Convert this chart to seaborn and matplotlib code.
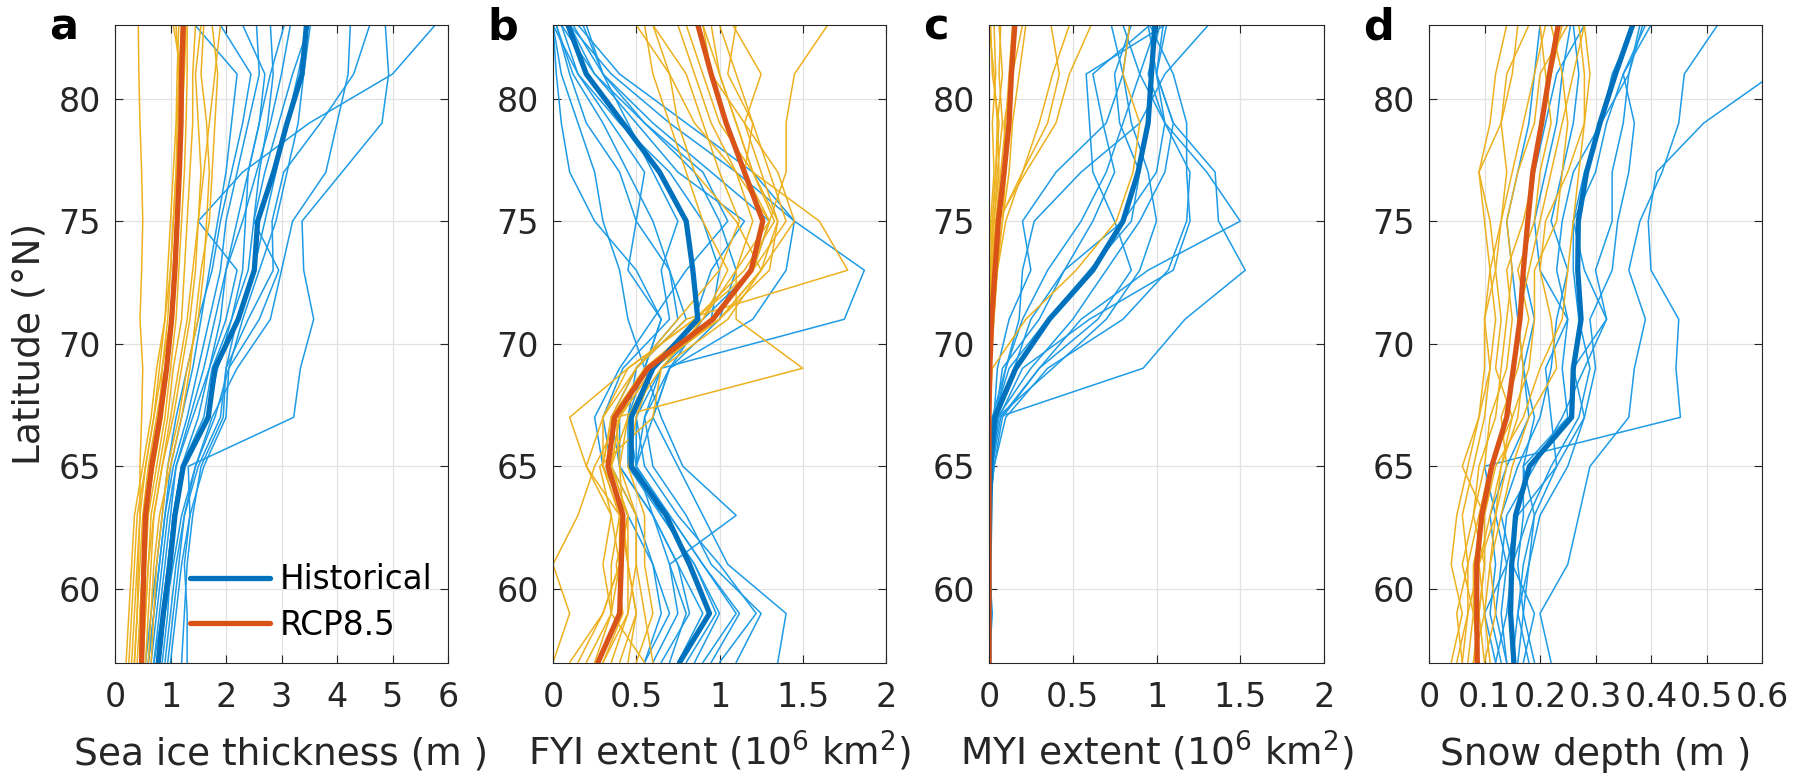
import numpy as np
import pandas as pd
import matplotlib
matplotlib.use("Agg")
import matplotlib.pyplot as plt
import seaborn as sns

# ---------------- data ----------------
LAT = [57, 59, 61, 63, 65, 67, 69, 71, 73, 75, 77, 79, 81, 83]
SCENARIOS = ["Historical", "RCP8.5"]

# Panel a: sea ice thickness (m)
A_HIST_MEAN = [0.78, 0.87, 0.99, 1.08, 1.23, 1.68, 1.80, 2.22, 2.51, 2.57, 2.86, 3.10, 3.37, 3.45]
A_RCP_MEAN = [0.48, 0.50, 0.52, 0.55, 0.66, 0.81, 0.93, 1.02, 1.08, 1.12, 1.16, 1.19, 1.20, 1.23]
A_HIST_MEMBERS = [
    [0.75, 0.85, 0.95, 1.05, 1.20, 1.60, 1.75, 2.10, 2.40, 2.50, 2.70, 2.95, 3.20, 3.50],
    [0.60, 0.70, 0.80, 0.90, 1.05, 1.30, 1.50, 1.70, 1.90, 2.00, 2.20, 2.40, 2.60, 2.55],
    [1.30, 1.30, 1.25, 1.35, 1.32, 3.22, 3.34, 3.58, 3.40, 3.37, 4.09, 4.81, 4.93, 4.87],
    [0.90, 1.00, 1.10, 1.25, 1.50, 1.90, 2.00, 2.40, 2.85, 2.83, 3.04, 3.70, 4.30, 4.59],
    [0.70, 0.80, 0.90, 1.00, 1.10, 1.40, 1.70, 2.00, 2.20, 1.50, 2.30, 3.50, 5.00, 5.77],
    [0.80, 0.90, 1.05, 1.20, 1.45, 1.80, 2.05, 2.30, 2.60, 2.90, 3.10, 3.30, 3.40, 3.52],
    [0.65, 0.75, 0.85, 0.95, 1.10, 1.35, 1.60, 1.80, 2.00, 2.30, 2.55, 2.80, 3.00, 3.16],
    [1.00, 1.10, 1.20, 1.35, 1.60, 2.00, 2.05, 2.60, 2.95, 2.50, 2.60, 2.75, 2.85, 2.80],
    [0.85, 0.95, 1.00, 1.10, 1.25, 1.65, 1.85, 2.10, 2.30, 2.35, 2.40, 2.60, 2.70, 2.30],
    [0.55, 0.65, 0.75, 0.85, 0.95, 1.10, 1.30, 1.50, 1.75, 1.90, 2.10, 2.30, 2.45, 1.90],
    [0.95, 1.05, 1.15, 1.25, 1.45, 1.75, 2.20, 2.80, 3.00, 3.20, 3.80, 4.00, 4.20, 4.24],
    [0.70, 0.85, 0.95, 1.05, 1.20, 1.50, 1.70, 1.90, 2.00, 2.20, 2.40, 2.60, 2.80, 3.05],
    [1.20, 1.25, 1.30, 1.40, 1.55, 1.95, 2.00, 2.20, 2.50, 2.70, 2.90, 3.10, 3.30, 3.48],
    [0.60, 0.70, 0.80, 0.90, 1.00, 1.20, 1.40, 1.55, 1.70, 1.85, 2.00, 2.10, 2.20, 1.44],
]
A_RCP_MEMBERS = [
    [0.00, 0.00, 0.00, 0.00, 0.00, 0.00, 0.00, 0.00, 0.00, 0.00, 0.00, 0.00, 0.00, 0.00],
    [0.35, 0.40, 0.42, 0.45, 0.45, 0.48, 0.50, 0.45, 0.48, 0.50, 0.48, 0.45, 0.43, 0.42],
    [0.45, 0.50, 0.55, 0.60, 0.75, 0.90, 1.00, 1.10, 1.15, 1.20, 1.25, 1.28, 1.30, 1.30],
    [0.40, 0.45, 0.50, 0.55, 0.70, 0.85, 0.95, 1.05, 1.10, 1.10, 1.12, 1.15, 1.15, 1.10],
    [0.55, 0.60, 0.65, 0.70, 0.85, 1.00, 1.15, 1.30, 1.40, 1.50, 1.60, 1.70, 1.80, 1.90],
    [0.30, 0.35, 0.40, 0.45, 0.55, 0.70, 0.80, 0.90, 1.00, 1.05, 1.10, 1.15, 1.20, 1.25],
    [0.50, 0.55, 0.60, 0.70, 0.85, 1.05, 1.20, 1.35, 1.45, 1.50, 1.55, 1.50, 1.45, 1.55],
    [0.20, 0.25, 0.30, 0.35, 0.50, 0.65, 0.75, 0.90, 0.95, 1.00, 1.05, 1.10, 1.12, 1.15],
    [0.60, 0.65, 0.70, 0.80, 1.00, 1.20, 1.35, 1.45, 1.55, 1.70, 1.75, 1.80, 1.85, 1.75],
    [0.45, 0.45, 0.50, 0.55, 0.65, 0.80, 0.85, 0.95, 1.00, 1.05, 1.10, 1.12, 1.15, 1.20],
    [0.35, 0.40, 0.45, 0.50, 0.60, 0.75, 0.90, 1.00, 1.05, 1.10, 1.15, 1.20, 1.25, 1.28],
    [0.65, 0.70, 0.75, 0.85, 0.95, 1.15, 1.30, 1.50, 1.60, 1.65, 1.70, 1.65, 1.55, 1.60],
    [0.50, 0.55, 0.60, 0.65, 0.80, 0.95, 1.05, 1.20, 1.25, 1.30, 1.35, 1.40, 1.40, 1.45],
    [0.25, 0.30, 0.35, 0.40, 0.55, 0.70, 0.85, 1.00, 1.05, 1.10, 1.15, 1.18, 1.20, 1.05],
]

# Panel b: FYI extent (10^6 km^2)
B_HIST_MEAN = [0.76, 0.94, 0.82, 0.68, 0.47, 0.47, 0.60, 0.87, 0.84, 0.80, 0.64, 0.42, 0.20, 0.09]
B_RCP_MEAN = [0.27, 0.40, 0.41, 0.42, 0.33, 0.37, 0.57, 0.96, 1.19, 1.26, 1.15, 1.04, 0.95, 0.87]
B_HIST_MEMBERS = [
    [0.76, 0.94, 0.82, 0.68, 0.47, 0.47, 0.60, 0.87, 0.84, 0.80, 0.64, 0.42, 0.20, 0.09],
    [1.35, 1.40, 1.05, 0.90, 0.75, 0.60, 0.70, 1.20, 1.40, 1.45, 1.20, 0.80, 0.40, 0.15],
    [0.55, 0.70, 0.60, 0.45, 0.30, 0.25, 0.40, 0.60, 0.80, 1.05, 0.90, 0.55, 0.25, 0.05],
    [1.00, 1.22, 1.00, 0.75, 0.55, 0.50, 0.65, 1.75, 1.87, 1.45, 1.10, 0.70, 0.35, 0.10],
    [0.70, 0.80, 0.70, 0.60, 0.40, 0.40, 0.55, 0.45, 0.40, 0.30, 0.25, 0.15, 0.05, 0.00],
    [0.90, 1.10, 0.90, 0.70, 0.50, 0.55, 0.65, 0.95, 1.00, 0.90, 0.70, 0.40, 0.15, 0.00],
    [0.60, 0.75, 0.70, 1.10, 0.78, 0.65, 0.55, 0.65, 0.50, 0.25, 0.10, 0.05, 0.02, 0.00],
    [0.85, 1.00, 0.85, 0.65, 0.45, 0.45, 0.50, 0.75, 0.70, 0.50, 0.55, 0.35, 0.15, 0.05],
    [0.75, 0.90, 0.75, 0.60, 0.50, 0.60, 0.70, 0.90, 1.20, 1.30, 0.95, 0.60, 0.30, 0.12],
    [0.95, 1.12, 0.90, 0.70, 0.50, 0.45, 0.55, 0.65, 0.45, 0.50, 0.40, 0.20, 0.10, 0.02],
    [0.65, 0.82, 0.75, 0.60, 0.40, 0.35, 0.50, 0.80, 0.70, 0.60, 0.45, 0.30, 0.12, 0.02],
    [1.10, 1.25, 0.95, 0.80, 0.60, 0.55, 0.70, 1.00, 1.10, 1.00, 0.85, 0.55, 0.30, 0.20],
    [0.55, 0.65, 0.60, 0.50, 0.35, 0.30, 0.42, 0.70, 0.65, 0.75, 0.60, 0.45, 0.30, 0.18],
    [0.80, 0.98, 0.85, 0.65, 0.50, 0.50, 0.60, 0.85, 0.95, 1.15, 0.75, 0.50, 0.25, 0.10],
]
B_RCP_MEMBERS = [
    [0.27, 0.40, 0.41, 0.42, 0.33, 0.37, 0.57, 0.96, 1.19, 1.26, 1.15, 1.04, 0.95, 0.87],
    [0.00, 0.10, 0.00, 0.15, 0.25, 0.40, 0.60, 1.00, 1.30, 1.35, 1.20, 1.10, 1.00, 0.90],
    [0.15, 0.30, 0.40, 0.35, 0.20, 0.10, 0.45, 0.85, 1.20, 1.40, 1.30, 1.20, 1.05, 1.10],
    [0.40, 0.50, 0.45, 0.40, 0.30, 0.35, 0.50, 0.80, 1.77, 1.60, 1.20, 1.00, 0.90, 0.80],
    [0.30, 0.45, 0.50, 0.50, 0.40, 0.38, 1.50, 1.10, 1.10, 1.30, 1.10, 0.95, 0.85, 0.75],
    [0.50, 0.60, 0.55, 0.55, 0.45, 0.50, 0.60, 0.95, 1.20, 1.30, 1.40, 1.40, 1.45, 1.65],
    [0.20, 0.35, 0.35, 0.40, 0.30, 0.30, 0.50, 0.75, 1.00, 1.12, 1.00, 0.90, 0.80, 0.60],
    [0.35, 0.45, 0.45, 0.45, 0.35, 0.45, 0.65, 1.05, 1.25, 1.35, 1.25, 1.15, 1.25, 1.08],
    [0.10, 0.30, 0.40, 0.45, 0.30, 0.35, 0.55, 0.90, 1.10, 1.20, 1.10, 0.85, 0.70, 0.50],
    [0.60, 0.55, 0.50, 0.50, 0.35, 0.40, 0.55, 1.00, 1.25, 1.45, 1.35, 1.15, 0.95, 0.90],
    [0.25, 0.35, 0.40, 0.40, 0.20, 0.30, 0.45, 0.85, 1.15, 1.33, 1.20, 1.10, 1.00, 0.95],
    [0.45, 0.50, 0.45, 0.42, 0.40, 0.45, 0.60, 1.00, 1.25, 1.10, 0.85, 0.75, 0.70, 0.60],
    [0.30, 0.42, 0.38, 0.45, 0.35, 0.40, 0.60, 0.95, 1.20, 1.30, 1.15, 1.20, 1.10, 1.00],
    [0.55, 0.35, 0.30, 0.35, 0.28, 0.60, 0.65, 0.90, 1.05, 0.90, 0.80, 0.70, 0.60, 0.55],
]

# Panel c: MYI extent (10^6 km^2)
C_HIST_MEAN = [0.0, 0.0, 0.0, 0.005, 0.01, 0.035, 0.16, 0.36, 0.62, 0.80, 0.89, 0.95, 0.97, 0.99]
C_RCP_MEAN = [0.0, 0.0, 0.0, 0.0, 0.0, 0.0, 0.005, 0.016, 0.036, 0.056, 0.09, 0.12, 0.134, 0.154]
C_HIST_MEMBERS = [
    [0.0, 0.0, 0.0, 0.0, 0.01, 0.04, 0.16, 0.36, 0.62, 0.80, 0.89, 0.95, 0.97, 0.99],
    [0.0, 0.02, 0.0, 0.0, 0.02, 0.05, 0.92, 1.17, 1.53, 1.37, 1.35, 1.10, 1.00, 0.95],
    [0.0, 0.0, 0.0, 0.0, 0.03, 0.08, 0.30, 0.55, 0.95, 1.50, 1.30, 1.05, 0.90, 0.80],
    [0.0, 0.0, 0.0, 0.0, 0.0, 0.02, 0.15, 0.25, 0.45, 0.80, 1.00, 1.05, 1.00, 1.06],
    [0.0, 0.0, 0.0, 0.0, 0.01, 0.03, 0.05, 0.12, 0.25, 0.20, 0.40, 0.70, 0.80, 0.73],
    [0.0, 0.0, 0.0, 0.0, 0.02, 0.06, 0.20, 0.60, 1.10, 1.20, 1.18, 1.18, 1.10, 0.96],
    [0.0, 0.0, 0.0, 0.0, 0.0, 0.02, 0.10, 0.18, 0.20, 0.27, 0.55, 0.90, 1.05, 1.31],
    [0.0, 0.0, 0.0, 0.0, 0.02, 0.05, 0.38, 0.70, 0.90, 1.00, 0.95, 0.85, 0.80, 0.84],
    [0.0, 0.0, 0.0, 0.0, 0.01, 0.04, 0.08, 0.30, 0.45, 0.62, 0.75, 0.68, 0.62, 0.96],
    [0.0, 0.0, 0.0, 0.0, 0.03, 0.10, 0.35, 0.80, 1.07, 1.18, 1.20, 1.05, 0.95, 1.02],
    [0.0, 0.0, 0.0, 0.0, 0.0, 0.03, 0.12, 0.35, 0.60, 0.85, 0.90, 0.78, 0.75, 0.85],
    [0.0, 0.0, 0.0, 0.0, 0.02, 0.05, 0.25, 0.50, 0.70, 0.90, 1.05, 1.10, 1.00, 1.04],
    [0.0, 0.0, 0.0, 0.0, 0.01, 0.04, 0.10, 0.20, 0.35, 0.55, 0.70, 0.80, 0.90, 1.00],
    [0.0, 0.0, 0.0, 0.0, 0.02, 0.07, 0.30, 0.65, 0.85, 0.75, 0.62, 0.60, 0.58, 1.05],
]
C_RCP_MEMBERS = [
    [0.0, 0.0, 0.0, 0.0, 0.0, 0.0, 0.0, 0.01, 0.02, 0.04, 0.07, 0.10, 0.12, 0.14],
    [0.0, 0.0, 0.0, 0.0, 0.0, 0.0, 0.02, 0.22, 0.52, 0.76, 0.86, 0.90, 0.80, 0.84],
    [0.0, 0.0, 0.0, 0.0, 0.0, 0.0, 0.0, 0.02, 0.03, 0.05, 0.22, 0.40, 0.48, 0.61],
    [0.0, 0.0, 0.0, 0.0, 0.0, 0.0, 0.0, 0.01, 0.02, 0.06, 0.20, 0.35, 0.42, 0.37],
    [0.0, 0.0, 0.0, 0.0, 0.0, 0.0, 0.0, 0.0, 0.01, 0.02, 0.04, 0.05, 0.03, 0.00],
    [0.0, 0.0, 0.0, 0.0, 0.0, 0.0, 0.0, 0.01, 0.02, 0.03, 0.05, 0.08, 0.06, 0.07],
    [0.0, 0.0, 0.0, 0.0, 0.0, 0.0, 0.0, 0.0, 0.0, 0.01, 0.03, 0.02, 0.04, 0.03],
    [0.0, 0.0, 0.0, 0.0, 0.0, 0.0, 0.01, 0.02, 0.04, 0.08, 0.10, 0.09, 0.14, 0.20],
    [0.0, 0.0, 0.0, 0.0, 0.0, 0.0, 0.0, 0.01, 0.01, 0.02, 0.04, 0.06, 0.02, 0.01],
    [0.0, 0.0, 0.0, 0.0, 0.0, 0.0, 0.0, 0.02, 0.05, 0.10, 0.20, 0.30, 0.38, 0.48],
    [0.0, 0.0, 0.0, 0.0, 0.0, 0.0, 0.0, 0.0, 0.01, 0.03, 0.06, 0.05, 0.08, 0.06],
    [0.0, 0.0, 0.0, 0.0, 0.0, 0.0, 0.01, 0.03, 0.05, 0.08, 0.12, 0.14, 0.18, 0.22],
]

# Panel d: snow depth (m)
D_HIST_MEAN = [0.153, 0.147, 0.149, 0.156, 0.181, 0.257, 0.260, 0.274, 0.268, 0.269, 0.284, 0.308, 0.336, 0.367]
D_RCP_MEAN = [0.087, 0.086, 0.086, 0.095, 0.113, 0.140, 0.152, 0.164, 0.170, 0.178, 0.187, 0.203, 0.217, 0.233]
D_HIST_MEMBERS = [
    [0.153, 0.147, 0.149, 0.156, 0.181, 0.257, 0.26, 0.274, 0.268, 0.269, 0.284, 0.308, 0.336, 0.367],
    [0.12, 0.10, 0.14, 0.12, 0.10, 0.453, 0.445, 0.45, 0.40, 0.395, 0.41, 0.495, 0.62, 0.70],
    [0.22, 0.20, 0.25, 0.27, 0.29, 0.36, 0.37, 0.39, 0.36, 0.38, 0.42, 0.45, 0.46, 0.52],
    [0.14, 0.12, 0.13, 0.14, 0.19, 0.24, 0.28, 0.32, 0.30, 0.33, 0.33, 0.35, 0.36, 0.385],
    [0.17, 0.19, 0.15, 0.18, 0.22, 0.27, 0.29, 0.27, 0.26, 0.26, 0.28, 0.31, 0.33, 0.37],
    [0.13, 0.11, 0.12, 0.11, 0.14, 0.18, 0.17, 0.16, 0.15, 0.14, 0.16, 0.18, 0.19, 0.20],
    [0.16, 0.17, 0.18, 0.19, 0.23, 0.22, 0.21, 0.25, 0.20, 0.19, 0.21, 0.23, 0.24, 0.255],
    [0.19, 0.17, 0.16, 0.17, 0.17, 0.19, 0.17, 0.19, 0.17, 0.18, 0.19, 0.21, 0.23, 0.28],
    [0.14, 0.13, 0.14, 0.16, 0.23, 0.28, 0.26, 0.32, 0.28, 0.26, 0.30, 0.32, 0.35, 0.40],
    [0.18, 0.16, 0.17, 0.19, 0.17, 0.25, 0.24, 0.25, 0.23, 0.24, 0.26, 0.31, 0.36, 0.38],
    [0.12, 0.14, 0.15, 0.13, 0.16, 0.20, 0.22, 0.23, 0.25, 0.22, 0.24, 0.26, 0.27, 0.26],
    [0.15, 0.16, 0.18, 0.20, 0.25, 0.28, 0.30, 0.29, 0.33, 0.34, 0.36, 0.37, 0.35, 0.39],
]
D_RCP_MEMBERS = [
    [0.087, 0.086, 0.086, 0.095, 0.113, 0.140, 0.152, 0.164, 0.170, 0.178, 0.187, 0.203, 0.217, 0.233],
    [0.04, 0.06, 0.04, 0.05, 0.07, 0.09, 0.10, 0.10, 0.11, 0.10, 0.09, 0.11, 0.12, 0.14],
    [0.06, 0.07, 0.07, 0.06, 0.08, 0.10, 0.11, 0.12, 0.11, 0.13, 0.14, 0.13, 0.15, 0.16],
    [0.10, 0.09, 0.10, 0.10, 0.12, 0.17, 0.20, 0.24, 0.25, 0.26, 0.27, 0.28, 0.28, 0.27],
    [0.06, 0.05, 0.07, 0.09, 0.11, 0.15, 0.12, 0.13, 0.12, 0.13, 0.15, 0.17, 0.19, 0.21],
    [0.08, 0.10, 0.11, 0.13, 0.15, 0.18, 0.23, 0.22, 0.20, 0.21, 0.25, 0.28, 0.29, 0.28],
    [0.09, 0.08, 0.06, 0.08, 0.10, 0.11, 0.14, 0.15, 0.14, 0.17, 0.19, 0.20, 0.22, 0.24],
    [0.11, 0.10, 0.09, 0.11, 0.13, 0.16, 0.17, 0.16, 0.18, 0.20, 0.22, 0.24, 0.26, 0.28],
    [0.07, 0.08, 0.08, 0.10, 0.06, 0.09, 0.11, 0.10, 0.12, 0.11, 0.09, 0.13, 0.14, 0.18],
    [0.05, 0.07, 0.09, 0.12, 0.14, 0.13, 0.16, 0.18, 0.16, 0.19, 0.20, 0.22, 0.21, 0.20],
    [0.08, 0.09, 0.10, 0.08, 0.09, 0.12, 0.13, 0.14, 0.15, 0.14, 0.16, 0.19, 0.20, 0.25],
    [0.10, 0.12, 0.11, 0.12, 0.13, 0.15, 0.18, 0.19, 0.19, 0.23, 0.24, 0.25, 0.24, 0.22],
]

PANEL_LETTERS = ["a", "b", "c", "d"]
XLABELS = ["Sea ice thickness (m )", r"FYI extent (10$^{6}$ km$^{2}$)",
           r"MYI extent (10$^{6}$ km$^{2}$)", "Snow depth (m )"]
XTICKS = [[0, 1, 2, 3, 4, 5, 6], [0, 0.5, 1, 1.5, 2], [0, 0.5, 1, 1.5, 2],
          [0, 0.1, 0.2, 0.3, 0.4, 0.5, 0.6]]
XTICKLABELS = [["0", "1", "2", "3", "4", "5", "6"], ["0", "0.5", "1", "1.5", "2"],
               ["0", "0.5", "1", "1.5", "2"], ["0", "0.1", "0.2", "0.3", "0.4", "0.5", "0.6"]]
YTICKS = [60, 65, 70, 75, 80]
YTICKLABELS = ["60", "65", "70", "75", "80"]
YLABEL = "Latitude (°N)"

# ---------------- style ----------------
sns.set_theme(style="white")
plt.rcParams["font.family"] = ["DejaVu Sans"]
plt.rcParams["mathtext.fontset"] = "dejavusans"
plt.rcParams["mathtext.default"] = "regular"

THIN_COLORS = {"Historical": "#1E9BE6", "RCP8.5": "#EDB120"}
THICK_COLORS = {"Historical": "#0072BD", "RCP8.5": "#D95319"}
TXT = "#262626"


def members_df(hist, rcp):
    rows = []
    for sc, mem in (("Historical", hist), ("RCP8.5", rcp)):
        for m, vals in enumerate(mem):
            for lat, v in zip(LAT, vals):
                rows.append({"lat": lat, "value": v, "scenario": sc, "member": f"{sc}_{m}"})
    return pd.DataFrame(rows)


def mean_df(hm, rm):
    rows = []
    for sc, vals in (("Historical", hm), ("RCP8.5", rm)):
        for lat, v in zip(LAT, vals):
            rows.append({"lat": lat, "value": v, "scenario": sc})
    return pd.DataFrame(rows)


PANELS = [
    (A_HIST_MEMBERS, A_RCP_MEMBERS, A_HIST_MEAN, A_RCP_MEAN),
    (B_HIST_MEMBERS, B_RCP_MEMBERS, B_HIST_MEAN, B_RCP_MEAN),
    (C_HIST_MEMBERS, C_RCP_MEMBERS, C_HIST_MEAN, C_RCP_MEAN),
    (D_HIST_MEMBERS, D_RCP_MEMBERS, D_HIST_MEAN, D_RCP_MEAN),
]

W, H = 1794, 777
fig = plt.figure(figsize=(W / 100, H / 100), dpi=100)
lefts_px = [115, 553, 989, 1429]
widths_px = [333, 333, 335, 333]
top_px, bot_px = 25, 662.5

for i, (hm_, rm_, hmean, rmean) in enumerate(PANELS):
    ax = fig.add_axes([lefts_px[i] / W, (H - bot_px) / H, widths_px[i] / W, (bot_px - top_px) / H])
    ax.set_axisbelow(True)
    ax.grid(True, color="#E2E2E2", lw=0.9)
    dfm = members_df(hm_, rm_)
    sns.lineplot(data=dfm, x="value", y="lat", hue="scenario", units="member",
                 estimator=None, sort=False, palette=THIN_COLORS, hue_order=SCENARIOS,
                 linewidth=1.1, legend=False, ax=ax)
    dfmean = mean_df(hmean, rmean)
    sns.lineplot(data=dfmean, x="value", y="lat", hue="scenario", estimator=None,
                 sort=False, palette=THICK_COLORS, hue_order=SCENARIOS,
                 linewidth=3.8, legend=(i == 0), ax=ax)
    ax.set_xlim(XTICKS[i][0], XTICKS[i][-1])
    ax.set_ylim(57, 83)
    ax.set_xticks(XTICKS[i])
    ax.set_xticklabels(XTICKLABELS[i])
    ax.set_yticks(YTICKS)
    ax.set_yticklabels(YTICKLABELS)
    ax.set_xlabel("")
    ax.set_ylabel("")
    ax.tick_params(axis="both", direction="in", length=6, width=0.8, color=TXT,
                   top=True, right=True, bottom=True, left=True,
                   labelsize=24, labelcolor=TXT)
    ax.tick_params(axis="x", pad=13)
    ax.tick_params(axis="y", pad=10)
    for s in ax.spines.values():
        s.set_color(TXT)
        s.set_linewidth(0.8)
    ax.text(0.5, (bot_px - 765) / (bot_px - top_px), XLABELS[i], transform=ax.transAxes,
            ha="center", va="baseline", fontsize=27, color=TXT)
    fig.text((lefts_px[i] - 66) / W, 1 - 40 / H, PANEL_LETTERS[i], ha="left", va="baseline",
             fontsize=31, fontweight="bold", color="black")
    if i == 0:
        ax.text((40 - lefts_px[0]) / widths_px[0], 0.5, YLABEL, transform=ax.transAxes,
                rotation=90, rotation_mode="anchor", ha="center", va="baseline",
                fontsize=27, color=TXT)
        leg = ax.legend(loc="lower left", bbox_to_anchor=(0.185, 0.012), frameon=False,
                        fontsize=23.5, handlelength=2.45, handletextpad=0.3,
                        labelspacing=0.38, borderaxespad=0)
        for t in leg.get_texts():
            t.set_color("black")
        for ln in leg.get_lines():
            ln.set_linewidth(3.8)

fig.savefig("out.png", dpi=100)
